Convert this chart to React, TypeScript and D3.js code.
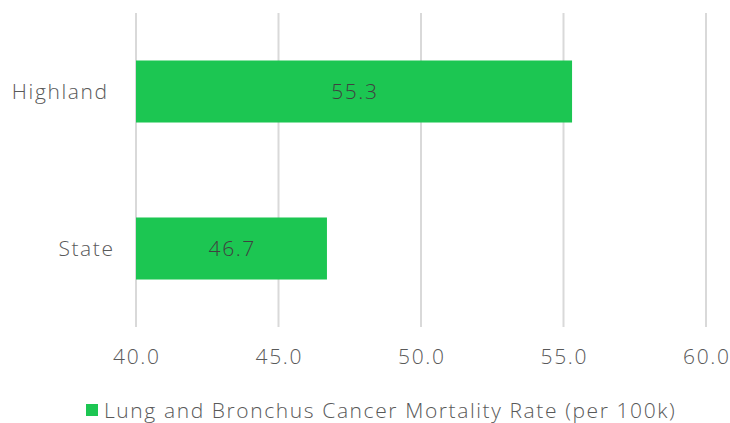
import React from "react";
import * as d3 from "d3";

const categories = ["Highland", "State"];
const values = [55.3, 46.7];
const tickValues = [40, 45, 50, 55, 60];
const seriesName = "Lung and Bronchus Cancer Mortality Rate (per 100k)";

const W = 730;
const H = 423;
const FONT = "'Open Sans', Lato, sans-serif";
const LS = 1.6;

export default function App() {
  const x = d3.scaleLinear().domain([40, 60]).range([136, 706]);
  const y = d3
    .scaleBand<string>()
    .domain(categories)
    .range([13, 327])
    .paddingInner(0.605)
    .paddingOuter(0.3025);
  const fmt = d3.format(".1f");
  const labelRight = [107 + LS, 113 + LS];

  return (
    <svg
      width={W}
      height={H}
      style={{ position: "absolute", left: 0, top: 0, background: "#fff" }}
      fontFamily={FONT}
      fontWeight={300}
      letterSpacing={LS}
    >
      {tickValues.map((t) => (
        <line
          key={"g" + t}
          x1={x(t)}
          x2={x(t)}
          y1={13}
          y2={327}
          stroke="#d9d9d9"
          strokeWidth={2}
        />
      ))}
      {categories.map((c, i) => (
        <g key={c}>
          <rect
            x={x(40)}
            y={y(c)!}
            width={x(values[i]) - x(40)}
            height={y.bandwidth()}
            fill="#1cc652"
          />
          <text
            x={(x(40) + x(values[i])) / 2 + LS / 2}
            y={y(c)! + y.bandwidth() / 2}
            dy="0.36em"
            textAnchor="middle"
            fontSize={21}
            fill="#404040"
          >
            {fmt(values[i])}
          </text>
          <text
            x={labelRight[i]}
            y={y(c)! + y.bandwidth() / 2}
            dy="0.36em"
            textAnchor="end"
            fontSize={21}
            fill="#595959"
          >
            {c}
          </text>
        </g>
      ))}
      {tickValues.map((t) => (
        <text
          key={"t" + t}
          x={x(t) + LS / 2}
          y={364}
          textAnchor="middle"
          fontSize={21}
          fill="#595959"
        >
          {fmt(t)}
        </text>
      ))}
      <rect x={86} y={404} width={12} height={12} fill="#1cc652" />
      <text x={104} y={418} fontSize={21} fill="#595959">
        {seriesName}
      </text>
    </svg>
  );
}
